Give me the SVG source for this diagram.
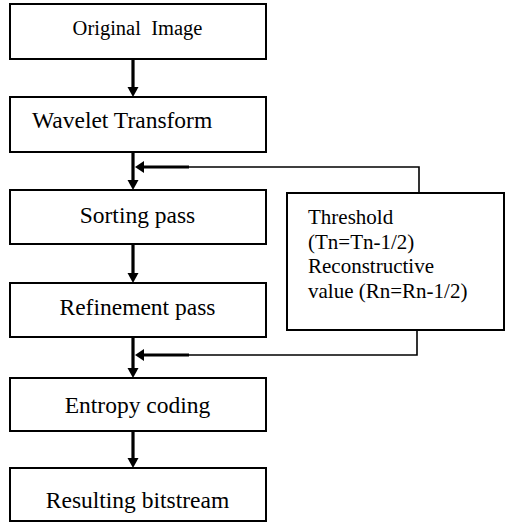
<svg xmlns="http://www.w3.org/2000/svg" width="506" height="524" viewBox="0 0 506 524">
<style>
.box{fill:#fff;stroke:#000;stroke-width:2}
text{font-family:'Liberation Serif','Times New Roman','DejaVu Serif',serif;fill:#000}
.t{font-size:23.5px;text-anchor:middle}
.s{font-size:21px}
.main{stroke:#000;stroke-width:3.2;fill:none}
.thin{stroke:#000;stroke-width:1.6;fill:none}
.head{fill:#000}
</style>
<rect width="506" height="524" fill="#fff"/>
<g id="connectors">
<line class="main" x1="133" y1="59" x2="133" y2="88"/>
<polygon class="head" points="127.5,87 138.5,87 133,97"/>
<line class="main" x1="133" y1="152" x2="133" y2="181"/>
<polygon class="head" points="127.5,180 138.5,180 133,190"/>
<line class="main" x1="133" y1="244" x2="133" y2="274"/>
<polygon class="head" points="127.5,273 138.5,273 133,283"/>
<line class="main" x1="133" y1="337" x2="133" y2="369"/>
<polygon class="head" points="127.5,368 138.5,368 133,378"/>
<line class="main" x1="133" y1="431" x2="133" y2="459"/>
<polygon class="head" points="127.5,458 138.5,458 133,468"/>
<polyline class="thin" points="419,193 419,167 188,167"/>
<line class="main" x1="189" y1="167" x2="143" y2="167"/>
<polygon class="head" points="144,161 144,173 135,167"/>
<polyline class="thin" points="417,330 417,355 188,355"/>
<line class="main" x1="189" y1="355" x2="143" y2="355"/>
<polygon class="head" points="144,349 144,361 135,355"/>
</g>
<g id="original-image">
<rect class="box" x="10" y="4" width="256" height="55"/>
<text class="t" x="137.5" y="35" font-family="Liberation Serif, serif" style="font-size:20.5px" xml:space="preserve">Original  Image</text>
</g>
<g id="wavelet-transform">
<rect class="box" x="10" y="97" width="256" height="55"/>
<text class="t" x="32" y="128" style="text-anchor:start">Wavelet Transform</text>
</g>
<g id="sorting-pass">
<rect class="box" x="10" y="190" width="256" height="54"/>
<text class="t" x="137.5" y="223">Sorting pass</text>
</g>
<g id="refinement-pass">
<rect class="box" x="10" y="283" width="256" height="54"/>
<text class="t" x="137.5" y="315">Refinement pass</text>
</g>
<g id="entropy-coding">
<rect class="box" x="10" y="378" width="256" height="53"/>
<text class="t" x="137.5" y="413">Entropy coding</text>
</g>
<g id="resulting-bitstream">
<rect class="box" x="10" y="468" width="256" height="53"/>
<text class="t" x="137.5" y="508">Resulting bitstream</text>
</g>
<g id="threshold">
<rect class="box" x="287" y="193" width="217" height="137"/>
<text class="s" x="308" y="224">Threshold</text>
<text class="s" x="308" y="248.5">(Tn=Tn-1/2)</text>
<text class="s" x="308" y="273">Reconstructive</text>
<text class="s" x="308" y="298">value (Rn=Rn-1/2)</text>
</g>
</svg>
